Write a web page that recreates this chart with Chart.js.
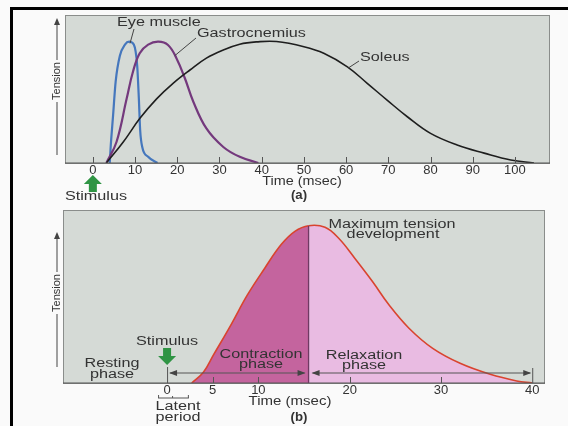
<!DOCTYPE html>
<html>
<head>
<meta charset="utf-8">
<script src="https://cdn.jsdelivr.net/npm/chart.js@4/dist/chart.umd.min.js"></script>
<style>
  html, body { margin: 0; padding: 0; background: #fafafa; }
  #wrap { position: relative; width: 568px; height: 426px; }
  canvas { position: absolute; left: 0; top: 0; }
</style>
</head>
<body>
<div id="wrap">
  <canvas id="chartA" width="568" height="426"></canvas>
  <canvas id="chartB" width="568" height="426"></canvas>
</div>
<script>
// ---- data (a): twitch of three muscles ----
const xTicksA = [0, 10, 20, 30, 40, 50, 60, 70, 80, 90, 100];

const eyeTime = [4.0, 4.2, 4.8, 5.4, 6.4, 7.6, 8.6, 9.7, 10.5, 10.9, 11.2, 11.7, 13.1, 15.3];
const eyeTension = [0, 12, 39, 66, 87, 96, 98.4, 96, 79, 52, 27, 13, 5, 0];

const gastroTime = [3.2, 5.6, 8.0, 9.5, 11.1, 13.1, 15.5, 17.8, 19.8, 21.8, 23.8, 26.9, 30.9, 34.8, 39.2];
const gastroTension = [0, 17, 52, 74, 89, 96, 98.4, 95.7, 85, 68.7, 49.7, 28, 13, 5, 0];

const soleusTime = [3.2, 7.2, 11.1, 15.1, 19.0, 23.0, 26.9, 30.9, 34.8, 38.8, 43.5, 50, 54.7, 60.3, 65, 69.7, 74.5, 80, 86.3, 92.7, 99, 104.5];
const soleusTension = [0, 17, 36, 52, 64.6, 75.4, 85, 91.6, 96.3, 98.2, 98.5, 94.3, 89, 78, 64.6, 51, 37.5, 24, 14.6, 8, 2.4, 0];

// ---- data (b): phases of one twitch ----
const xTicksB = [0, 5, 10, 20, 30, 40];
const twitchTime = [2.7, 4.0, 5.1, 7.0, 8.8, 10.7, 12.5, 14.0, 15.5, 17.3, 18.8, 20.6, 22.5, 24.3, 26.5, 29.1, 32.1, 35.4, 38.3, 40];
const twitchTension = [0, 7, 18, 37, 56, 73, 88, 96.4, 100, 99, 92, 79, 64.5, 49.7, 34.8, 22, 12.5, 5.5, 1.3, 0];
const peakTime = 15.5;
const peakTension = 100;
const latentEnd = 2.5;

const FONT = "'Liberation Sans', Arial, sans-serif";
Chart.defaults.font.family = FONT;
Chart.defaults.color = '#333';

const PANEL_BG = '#d5dad6';
const CONTRACT_FILL = '#c4649e';
const RELAX_FILL = '#e9bbe2';
const WIDE = 1.35;   // the figure's lettering is a wide sans

function pts(xs, ys) {
  return xs.map((x, i) => ({ x: x, y: ys[i] }));
}

function text(ctx, str, x, y, size, opts = {}) {
  const sx = opts.sx || WIDE;
  ctx.save();
  ctx.translate(x, y);
  ctx.scale(sx, 1);
  ctx.font = (opts.bold ? 'bold ' : '') + size + 'px ' + FONT;
  ctx.fillStyle = opts.color || '#333';
  ctx.textAlign = opts.align || 'center';
  ctx.textBaseline = 'middle';
  ctx.fillText(str, 0, 0);
  ctx.restore();
}

function line(ctx, x1, y1, x2, y2, color, w) {
  ctx.save();
  ctx.strokeStyle = color || '#444';
  ctx.lineWidth = w || 1;
  ctx.beginPath();
  ctx.moveTo(x1, y1);
  ctx.lineTo(x2, y2);
  ctx.stroke();
  ctx.restore();
}

function arrowHead(ctx, x, y, dir, color, len, half) {
  // dir: 'up' | 'left' | 'right'
  len = len || 7; half = half || 3;
  ctx.save();
  ctx.fillStyle = color || '#333';
  ctx.beginPath();
  if (dir === 'up') {
    ctx.moveTo(x, y); ctx.lineTo(x - half, y + len); ctx.lineTo(x + half, y + len);
  } else if (dir === 'left') {
    ctx.moveTo(x, y); ctx.lineTo(x + len, y - half); ctx.lineTo(x + len, y + half);
  } else {
    ctx.moveTo(x, y); ctx.lineTo(x - len, y - half); ctx.lineTo(x - len, y + half);
  }
  ctx.closePath();
  ctx.fill();
  ctx.restore();
}

function greenArrow(ctx, x, tipY, dir) {
  // block arrow, 17px long
  const s = dir === 'up' ? 1 : -1;
  ctx.save();
  ctx.fillStyle = '#2f9444';
  ctx.beginPath();
  ctx.moveTo(x, tipY);
  ctx.lineTo(x - 9, tipY + s * 9);
  ctx.lineTo(x - 4, tipY + s * 9);
  ctx.lineTo(x - 4, tipY + s * 17);
  ctx.lineTo(x + 4, tipY + s * 17);
  ctx.lineTo(x + 4, tipY + s * 9);
  ctx.lineTo(x + 9, tipY + s * 9);
  ctx.closePath();
  ctx.fill();
  ctx.restore();
}

function tensionLabel(ctx, x, top, bottom, mid) {
  line(ctx, x, bottom, x, mid + 21, '#444', 1);
  line(ctx, x, mid - 21, x, top + 4, '#444', 1);
  arrowHead(ctx, x, top, 'up', '#444', 7, 3);
  ctx.save();
  ctx.translate(x, mid);
  ctx.rotate(-Math.PI / 2);
  text(ctx, 'Tension', 0, 0, 11, { sx: 1 });
  ctx.restore();
}

function panelFrame(chart) {
  const { ctx, chartArea: a } = chart;
  ctx.save();
  ctx.fillStyle = PANEL_BG;
  ctx.fillRect(a.left, a.top, a.right - a.left, a.bottom - a.top);
  ctx.strokeStyle = '#8a8d8b';
  ctx.lineWidth = 1;
  ctx.strokeRect(a.left + 0.5, a.top + 0.5, a.right - a.left - 1, a.bottom - a.top);
  ctx.restore();
}

function axisTicks(chart, values) {
  const { ctx, chartArea: a, scales } = chart;
  line(ctx, a.left, a.bottom, a.right, a.bottom, '#555', 1.2);
  values.forEach(v => {
    const px = Math.round(scales.x.getPixelForValue(v)) + 0.5;
    line(ctx, px, a.bottom, px, a.bottom - 6, '#555', 1);
  });
}

// ---- panel (a) ----
const pluginA = {
  id: 'panelA',
  beforeDraw(chart) {
    const { ctx } = chart;
    ctx.save();
    ctx.fillStyle = '#fafafa';
    ctx.fillRect(0, 0, chart.width, chart.height);
    ctx.fillStyle = '#000';
    ctx.fillRect(10, 7, 558, 3);
    ctx.fillRect(10, 7, 3, 419);
    ctx.restore();
    panelFrame(chart);
  },
  afterDraw(chart) {
    const { ctx, scales } = chart;
    const x = scales.x, y = scales.y;
    axisTicks(chart, xTicksA);

    // labels with leader lines
    text(ctx, 'Eye muscle', 117, 23, 12, { align: 'left' });
    line(ctx, 134, 29, x.getPixelForValue(8.8), y.getPixelForValue(97), '#444', 1);
    text(ctx, 'Gastrocnemius', 197, 34, 12, { align: 'left' });
    line(ctx, 196, 38, x.getPixelForValue(19.4), y.getPixelForValue(87), '#444', 1);
    text(ctx, 'Soleus', 360, 58, 12, { align: 'left' });
    line(ctx, 359, 61, x.getPixelForValue(60.5), y.getPixelForValue(77), '#444', 1);

    tensionLabel(ctx, 57, 18, 155, 81);

    // stimulus arrow at t = 0
    const x0 = x.getPixelForValue(0);
    greenArrow(ctx, x0, 175, 'up');
    text(ctx, 'Stimulus', 96, 197, 12);

    text(ctx, 'Time (msec)', 302, 182, 12, { sx: 1.2 });
    text(ctx, '(a)', 299, 196, 12, { bold: true, sx: 1.1 });
  }
};

new Chart(document.getElementById('chartA'), {
  type: 'line',
  data: {
    datasets: [
      { data: pts(soleusTime, soleusTension), borderColor: '#1e1e1e', borderWidth: 1.6, tension: 0.4 },
      { data: pts(gastroTime, gastroTension), borderColor: '#74397d', borderWidth: 2.2, tension: 0.4 },
      { data: pts(eyeTime, eyeTension), borderColor: '#4577bd', borderWidth: 2.2, cubicInterpolationMode: 'monotone' }
    ]
  },
  options: {
    responsive: false,
    animation: false,
    devicePixelRatio: 1,
    layout: { padding: { left: 65, top: 15, right: 18, bottom: 243 } },
    elements: { point: { radius: 0 }, line: { fill: false } },
    plugins: { legend: { display: false }, tooltip: { enabled: false } },
    scales: {
      x: {
        type: 'linear', min: -6.6, max: 108.3,
        grid: { display: false, drawTicks: false },
        border: { display: false },
        afterBuildTicks: s => { s.ticks = xTicksA.map(v => ({ value: v })); },
        afterFit: s => { s.height = 20; },
        ticks: { padding: 0, font: { size: 13 }, color: '#333', maxRotation: 0, autoSkip: false }
      },
      y: { min: 0, max: 120, display: false }
    }
  },
  plugins: [pluginA]
});

// ---- panel (b) ----
const pluginB = {
  id: 'panelB',
  beforeDatasetsDraw(chart) {
    panelFrame(chart);
  },
  afterDraw(chart) {
    const { ctx, chartArea: a, scales } = chart;
    const x = scales.x, y = scales.y;
    axisTicks(chart, [5, 10, 20, 30]);

    const xPeak = x.getPixelForValue(peakTime);
    const yPeak = y.getPixelForValue(peakTension);
    line(ctx, xPeak, a.bottom, xPeak, yPeak, '#6f3a62', 1.3);

    const x0 = x.getPixelForValue(0);
    const x40 = x.getPixelForValue(40);
    const ay = 373;
    line(ctx, x0 + 0.5, 367, x0 + 0.5, a.bottom, '#555', 1);
    line(ctx, x40 + 0.5, 368, x40 + 0.5, a.bottom, '#555', 1);
    // contraction arrow
    line(ctx, x0 + 3, ay, xPeak - 4, ay, '#555', 1);
    arrowHead(ctx, x0 + 2, ay, 'left', '#444', 8, 3);
    arrowHead(ctx, xPeak - 3, ay, 'right', '#444', 8, 3);
    // relaxation arrow
    line(ctx, xPeak + 4, ay, x40 - 2, ay, '#555', 1);
    arrowHead(ctx, xPeak + 3, ay, 'left', '#444', 8, 3);
    arrowHead(ctx, x40 - 1, ay, 'right', '#444', 8, 3);

    text(ctx, 'Contraction', 261, 355, 12);
    text(ctx, 'phase', 261, 365, 12);
    text(ctx, 'Relaxation', 364, 356, 12);
    text(ctx, 'phase', 364, 366, 12);
    text(ctx, 'Resting', 112, 364, 12);
    text(ctx, 'phase', 112, 375, 12);

    text(ctx, 'Stimulus', x0, 342, 12);
    greenArrow(ctx, x0, 365, 'down');

    text(ctx, 'Maximum tension', 392, 225, 12);
    text(ctx, 'development', 393, 235, 12);

    tensionLabel(ctx, 57, 232, 367, 293);

    // latent period bracket
    const xl = x.getPixelForValue(latentEnd);
    const by = 398;
    line(ctx, x0 - 9, by, xl - 1, by, '#555', 1);
    line(ctx, x0 - 9 + 0.5, by, x0 - 9 + 0.5, by - 3, '#555', 1);
    line(ctx, xl - 1.5, by, xl - 1.5, by - 3, '#555', 1);
    line(ctx, x0 + 5.5, by, x0 + 5.5, by - 2, '#555', 1);
    text(ctx, 'Latent', 178, 407, 12);
    text(ctx, 'period', 178, 418, 12);

    text(ctx, 'Time (msec)', 290, 402, 12, { sx: 1.25 });
    text(ctx, '(b)', 299, 418, 12, { bold: true, sx: 1.1 });
  }
};

new Chart(document.getElementById('chartB'), {
  type: 'line',
  data: {
    datasets: [{
      data: pts(twitchTime, twitchTension),
      borderColor: '#d9442f',
      borderWidth: 1.6,
      tension: 0.4,
      fill: 'origin',
      backgroundColor: CONTRACT_FILL,
      segment: {
        backgroundColor: c => (c.p0.parsed.x >= peakTime - 1e-9 ? RELAX_FILL : CONTRACT_FILL)
      }
    }]
  },
  options: {
    responsive: false,
    animation: false,
    devicePixelRatio: 1,
    layout: { padding: { left: 63, top: 210, right: 23, bottom: 23 } },
    elements: { point: { radius: 0 } },
    plugins: { legend: { display: false }, tooltip: { enabled: false } },
    scales: {
      x: {
        type: 'linear', min: -11.4, max: 41.4,
        grid: { display: false, drawTicks: false },
        border: { display: false },
        afterBuildTicks: s => { s.ticks = xTicksB.map(v => ({ value: v })); },
        afterFit: s => { s.height = 20; },
        ticks: { padding: 0, font: { size: 13 }, color: '#333', maxRotation: 0, autoSkip: false }
      },
      y: { min: 0, max: 110, display: false }
    }
  },
  plugins: [pluginB]
});
</script>
</body>
</html>
